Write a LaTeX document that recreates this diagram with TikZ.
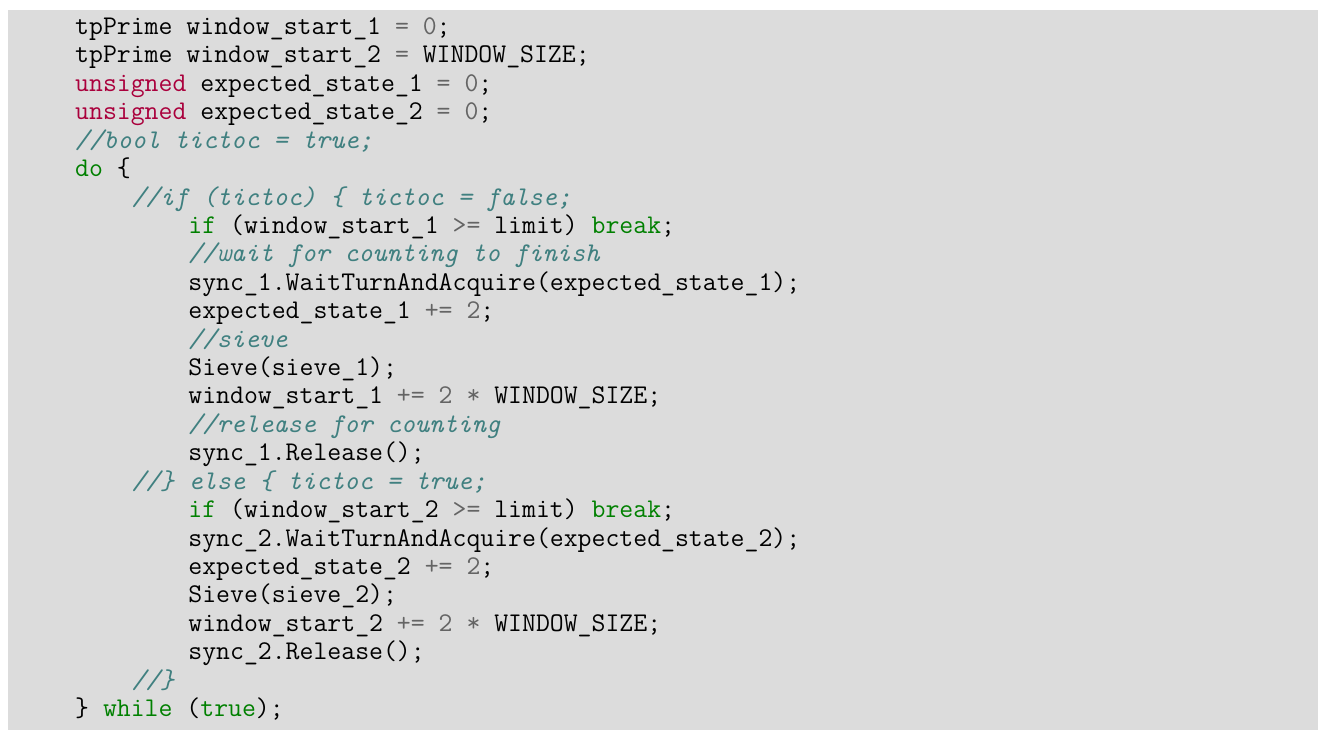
\documentclass[tikz,border=0pt]{standalone}
\usepackage{xcolor}
\definecolor{bg}{RGB}{220,220,220}
\definecolor{kwc}{RGB}{0,128,0}
\definecolor{tyc}{RGB}{170,0,60}
\definecolor{cmc}{RGB}{64,128,128}
\definecolor{opc}{RGB}{100,100,100}
\newcommand\kw[1]{\textcolor{kwc}{#1}}
\newcommand\ty[1]{\textcolor{tyc}{#1}}
\newcommand\cm[1]{\textcolor{cmc}{\itshape #1}}
\newcommand\op[1]{\textcolor{opc}{#1}}
\begin{document}
\begin{tikzpicture}[x=1pt,y=1pt,
  ln/.style={anchor=base west,inner sep=0pt,font=\ttfamily\fontsize{27}{28}\selectfont}]
\useasboundingbox (0,0) rectangle (1327,739);
\fill[bg] (8,9) rectangle (1318,729);
\def\L#1#2#3{\node[ln] (l#1) at (75+#2*14.15,739-34.5-28.42*#1) {#3};}
\L{0}{0}{tpPrime window\_start\_1 \op{=} \op{0};}
\L{1}{0}{tpPrime window\_start\_2 \op{=} WINDOW\_SIZE;}
\L{2}{0}{\ty{unsigned} expected\_state\_1 \op{=} \op{0};}
\L{3}{0}{\ty{unsigned} expected\_state\_2 \op{=} \op{0};}
\L{4}{0}{\cm{//bool tictoc = true;}}
\L{5}{0}{\kw{do} \{}
\L{6}{4}{\cm{//if (tictoc) \{ tictoc = false;}}
\L{7}{8}{\kw{if} (window\_start\_1 \op{>=} limit) \kw{break};}
\L{8}{8}{\cm{//wait for counting to finish}}
\L{9}{8}{sync\_1.WaitTurnAndAcquire(expected\_state\_1);}
\L{10}{8}{expected\_state\_1 \op{+=} \op{2};}
\L{11}{8}{\cm{//sieve}}
\L{12}{8}{Sieve(sieve\_1);}
\L{13}{8}{window\_start\_1 \op{+=} \op{2} \op{*} WINDOW\_SIZE;}
\L{14}{8}{\cm{//release for counting}}
\L{15}{8}{sync\_1.Release();}
\L{16}{4}{\cm{//\} else \{ tictoc = true;}}
\L{17}{8}{\kw{if} (window\_start\_2 \op{>=} limit) \kw{break};}
\L{18}{8}{sync\_2.WaitTurnAndAcquire(expected\_state\_2);}
\L{19}{8}{expected\_state\_2 \op{+=} \op{2};}
\L{20}{8}{Sieve(sieve\_2);}
\L{21}{8}{window\_start\_2 \op{+=} \op{2} \op{*} WINDOW\_SIZE;}
\L{22}{8}{sync\_2.Release();}
\L{23}{4}{\cm{//\}}}
\L{24}{0}{\} \kw{while} (\kw{true});}
\end{tikzpicture}
\end{document}
